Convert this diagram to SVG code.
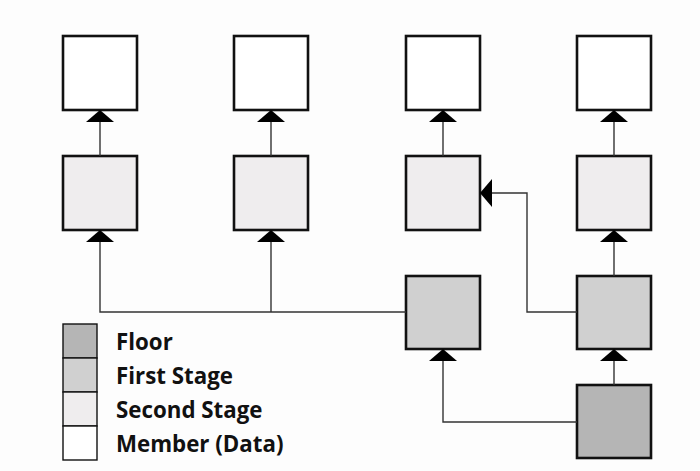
<svg xmlns="http://www.w3.org/2000/svg" width="700" height="471" viewBox="0 0 700 471">
  <style>
    .box { stroke: #111; stroke-width: 2.6; }
    .member { fill: #ffffff; }
    .second { fill: #efedee; }
    .first { fill: #d0d0d0; }
    .floor { fill: #b5b5b5; }
    .key { stroke: #111; stroke-width: 1.4; }
    .wire { fill: none; stroke: #333; stroke-width: 1.4; }
    .head { fill: #000; }
    .label { font-family: "Open Sans", "Liberation Sans", sans-serif; font-weight: bold; font-size: 22.3px; fill: #111; }
  </style>
  <rect width="700" height="471" fill="#fdfdfd"/>

  <!-- top row: members -->
  <g id="member-1"><rect class="box member" x="63" y="36" width="74" height="74"/></g>
  <g id="member-2"><rect class="box member" x="234" y="36" width="74" height="74"/></g>
  <g id="member-3"><rect class="box member" x="406" y="36" width="74" height="74"/></g>
  <g id="member-4"><rect class="box member" x="577" y="36" width="74" height="74"/></g>

  <!-- second stage row -->
  <g id="second-1"><rect class="box second" x="63" y="156" width="74" height="74"/></g>
  <g id="second-2"><rect class="box second" x="234" y="156" width="74" height="74"/></g>
  <g id="second-3"><rect class="box second" x="406" y="156" width="74" height="74"/></g>
  <g id="second-4"><rect class="box second" x="577" y="156" width="74" height="74"/></g>

  <!-- first stage -->
  <g id="first-3"><rect class="box first" x="406" y="276" width="74" height="73"/></g>
  <g id="first-4"><rect class="box first" x="577" y="276" width="74" height="73"/></g>

  <!-- floor -->
  <g id="floor"><rect class="box floor" x="577" y="385" width="74" height="73"/></g>

  <!-- connectors -->
  <g id="connectors">
    <!-- second stage to members -->
    <path class="wire" d="M100 156 V121"/>
    <path class="wire" d="M271 156 V121"/>
    <path class="wire" d="M443 156 V121"/>
    <path class="wire" d="M614 156 V121"/>
    <polygon class="head" points="100,110 86,122 114,122"/>
    <polygon class="head" points="271,110 257,122 285,122"/>
    <polygon class="head" points="443,110 429,122 457,122"/>
    <polygon class="head" points="614,110 600,122 628,122"/>

    <!-- first stage 3 to second stage 1 and 2 -->
    <path class="wire" d="M406 312 H100 V241"/>
    <path class="wire" d="M271 312 V241"/>
    <polygon class="head" points="100,230 86,242 114,242"/>
    <polygon class="head" points="271,230 257,242 285,242"/>

    <!-- first stage 4 to second stage 3 and 4 -->
    <path class="wire" d="M577 312 H527 V193 H491"/>
    <polygon class="head" points="480,193 492,179 492,207"/>
    <path class="wire" d="M614 276 V241"/>
    <polygon class="head" points="614,230 600,242 628,242"/>

    <!-- floor to first stage 3 and 4 -->
    <path class="wire" d="M614 385 V360"/>
    <polygon class="head" points="614,349 600,361 628,361"/>
    <path class="wire" d="M577 422 H443 V360"/>
    <polygon class="head" points="443,349 429,361 457,361"/>
  </g>

  <!-- legend -->
  <g id="legend">
    <rect class="key floor" x="63" y="324" width="34" height="34"/>
    <rect class="key first" x="63" y="358" width="34" height="34"/>
    <rect class="key second" x="63" y="392" width="34" height="34"/>
    <rect class="key member" x="63" y="426" width="34" height="34"/>
    <text class="label" x="116" y="350">Floor</text>
    <text class="label" x="116" y="384">First Stage</text>
    <text class="label" x="116" y="418">Second Stage</text>
    <text class="label" x="116" y="452">Member (Data)</text>
  </g>
</svg>
